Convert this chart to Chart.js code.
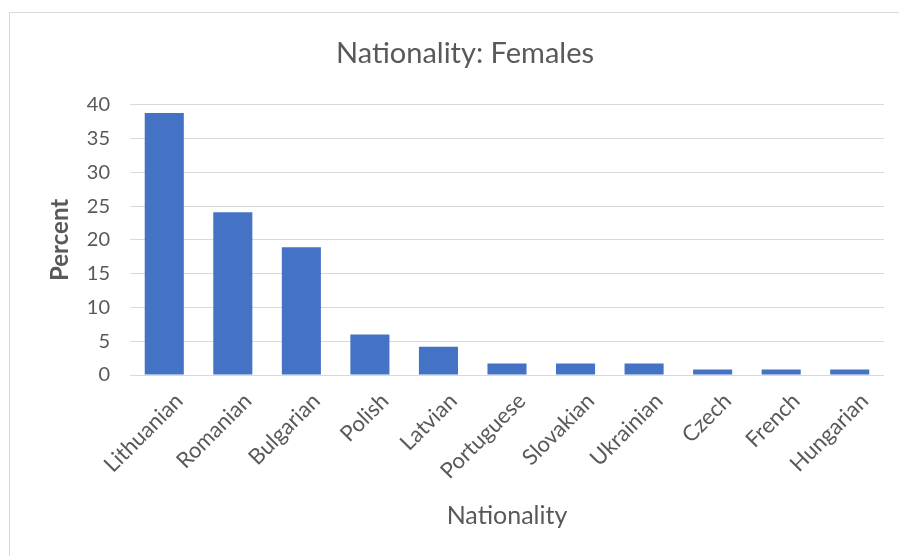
<!DOCTYPE html>
<html>
<head>
<meta charset="utf-8">
<script src="https://cdn.jsdelivr.net/npm/chart.js@4/dist/chart.umd.min.js"></script>
<style>
    html, body { margin: 0; padding: 0; background: #fff; }
    #wrap { position: relative; width: 899px; height: 556px; overflow: hidden; }
    #frame { position: absolute; left: 9px; top: 12px; width: 900px; height: 560px;
             border-left: 1px solid #d9d9d9; border-top: 1px solid #d9d9d9; }
    canvas { position: absolute; left: 0; top: 0; }
</style>
</head>
<body>
<div id="wrap">
    <div id="frame"></div>
    <canvas id="grafico" width="899" height="556"></canvas>
</div>
<script>
// Dados
const nationalities = ['Lithuanian', 'Romanian', 'Bulgarian', 'Polish', 'Latvian', 'Portuguese',
    'Slovakian', 'Ukrainian', 'Czech', 'French', 'Hungarian'];
const percentFemales = [38.8, 24.1, 18.9, 6.0, 4.2, 1.7, 1.7, 1.7, 0.8, 0.8, 0.8];
const yTicks = [0, 5, 10, 15, 20, 25, 30, 35, 40];

const gray = '#595959';
const fontFamily = 'Lato, "Open Sans", sans-serif';

let bar = new Chart(document.getElementById('grafico'), {
    type: 'bar',
    data: {
        labels: nationalities,
        datasets: [
            {
                label: 'Percent',
                data: percentFemales,
                backgroundColor: '#4472c4',
                categoryPercentage: 1,
                barPercentage: 0.57
            }
        ]
    },
    options: {
        responsive: false,
        animation: false,
        layout: {
            padding: { left: 46, right: 15, top: 0, bottom: 25 }
        },
        plugins: {
            legend: { display: false },
            tooltip: { enabled: false },
            title: {
                display: true,
                text: 'Nationality: Females',
                color: gray,
                font: { family: fontFamily, size: 29, weight: 'normal' },
                padding: { top: 36, bottom: 34 }
            }
        },
        scales: {
            y: {
                min: 0,
                max: 40,
                afterBuildTicks: (axis) => { axis.ticks = yTicks.map(v => ({ value: v })); },
                afterFit: (axis) => { axis.width = 84; },
                grid: { color: '#d9d9d9', lineWidth: 1, drawTicks: false },
                border: { display: false },
                ticks: {
                    color: gray,
                    padding: 20,
                    font: { family: fontFamily, size: 20 }
                },
                title: {
                    display: true,
                    text: 'Percent',
                    color: gray,
                    padding: 0,
                    font: { family: fontFamily, size: 24, weight: 'bold' }
                }
            },
            x: {
                afterFit: (axis) => { axis.height = 156; },
                grid: { display: false },
                border: { display: false },
                ticks: {
                    color: gray,
                    minRotation: 45,
                    maxRotation: 45,
                    padding: 5,
                    labelOffset: 15,
                    font: { family: fontFamily, size: 22 }
                },
                title: {
                    display: true,
                    text: 'Nationality',
                    color: gray,
                    padding: { top: 8, bottom: 0 },
                    font: { family: fontFamily, size: 25 }
                }
            }
        }
    }
});
</script>
</body>
</html>
